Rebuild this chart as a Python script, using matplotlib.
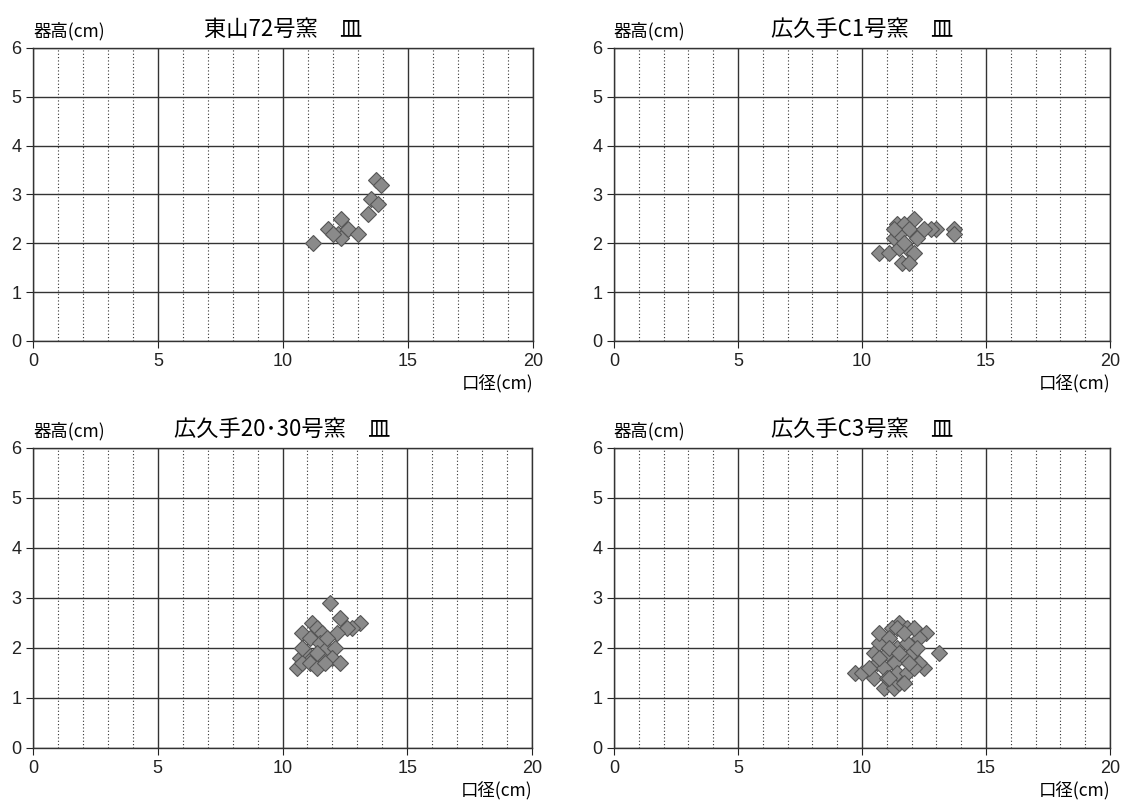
import matplotlib
matplotlib.use("Agg")
from matplotlib import pyplot as plt
from matplotlib.ticker import MultipleLocator

plt.rcParams['font.family'] = ['Noto Sans CJK JP', 'DejaVu Sans']

# 東山72号窯
higashi72_x = [11.2, 11.8, 12.3, 12.2, 12.3, 12.6, 12.0, 13.0, 13.4, 13.5, 13.8, 13.7, 13.9]
higashi72_y = [2.0, 2.3, 2.5, 2.2, 2.1, 2.3, 2.2, 2.2, 2.6, 2.9, 2.8, 3.3, 3.2]

# 広久手C1号窯
c1_x = [10.7, 13.7, 13.7, 13.0, 12.8, 12.1, 11.4, 11.7, 11.6, 11.1, 11.3, 11.5, 11.9,
        12.2, 12.5, 11.8, 12.1, 11.5, 11.7, 11.3, 11.9]
c1_y = [1.8, 2.3, 2.2, 2.3, 2.3, 2.5, 2.4, 2.4, 1.6, 1.8, 2.1, 2.2, 2.3,
        2.1, 2.3, 1.9, 1.8, 1.9, 2.0, 2.3, 1.6]

# 広久手20・30号窯
k2030_x = [11.9, 12.3, 13.1, 12.8, 12.6, 12.2, 10.8, 11.2, 11.4, 11.6, 11.1, 11.5, 11.8,
           12.1, 10.7, 11.0, 11.2, 11.6, 12.0, 10.6, 10.8, 11.1, 11.4, 11.7, 12.3, 11.4,
           11.8, 10.8]
k2030_y = [2.9, 2.6, 2.5, 2.4, 2.4, 2.3, 2.3, 2.5, 2.4, 2.3, 2.2, 2.1, 2.0,
           2.0, 1.8, 1.9, 1.8, 1.8, 1.8, 1.6, 1.7, 1.7, 1.6, 1.7, 1.7, 1.9,
           2.2, 2.0]

# 広久手C3号窯
c3_x = [13.1, 9.7, 10.0, 11.5, 11.2, 11.8, 12.6, 12.3, 12.5, 12.3, 10.9, 11.3, 11.5,
        10.5, 10.6, 10.5, 10.7, 10.7, 11.1, 11.0, 11.4, 11.8, 12.0, 11.7, 11.3, 10.9,
        11.0, 11.4, 11.8, 12.1, 11.9, 12.2, 10.3, 10.7, 11.1, 11.5, 11.4, 12.1, 11.7,
        11.1, 11.7]
c3_y = [1.9, 1.5, 1.5, 2.5, 2.4, 2.4, 2.3, 2.2, 1.6, 1.7, 1.2, 1.2, 1.3,
        1.4, 1.7, 1.9, 2.1, 2.3, 2.2, 1.9, 2.0, 2.1, 1.9, 1.8, 1.7, 1.6,
        1.4, 1.5, 1.5, 1.6, 1.7, 2.0, 1.6, 1.8, 2.0, 1.9, 2.4, 2.4, 2.3,
        1.4, 1.3]

titles = ["東山72号窯　皿", "広久手C1号窯　皿", "広久手20･30号窯　皿", "広久手C3号窯　皿"]
series = [(higashi72_x, higashi72_y), (c1_x, c1_y), (k2030_x, k2030_y), (c3_x, c3_y)]

positions = [
    [33 / 1125, 1 - 341 / 801, 500 / 1125, 293 / 801],
    [614 / 1125, 1 - 341 / 801, 496 / 1125, 293 / 801],
    [33 / 1125, 1 - 748 / 801, 499 / 1125, 300 / 801],
    [614 / 1125, 1 - 748 / 801, 496 / 1125, 300 / 801],
]

fig = plt.figure(figsize=(11.25, 8.01), dpi=100)

for pos, title, (xs, ys) in zip(positions, titles, series):
    ax = fig.add_axes(pos)
    ax.set_xlim(0, 20)
    ax.set_ylim(0, 6)
    ax.xaxis.set_major_locator(MultipleLocator(5))
    ax.xaxis.set_minor_locator(MultipleLocator(1))
    ax.yaxis.set_major_locator(MultipleLocator(1))
    ax.grid(which="major", color="#333333", linewidth=1.0)
    ax.grid(which="minor", axis="x", color="#333333", linewidth=0.8, linestyle=(0, (1, 2)))
    ax.set_axisbelow(True)
    for s in ax.spines.values():
        s.set_color("#333333")
        s.set_linewidth(1.0)
    ax.tick_params(which="major", direction="out", length=5, labelsize=13, colors="#222222")
    ax.tick_params(which="minor", length=0)
    for lab in ax.get_xticklabels() + ax.get_yticklabels():
        lab.set_family(["Liberation Sans", "DejaVu Sans"])
    ax.plot(xs, ys, linestyle="none", marker="D", markersize=8.5,
            markerfacecolor="#8a8a8a", markeredgecolor="#555555", markeredgewidth=0.8)
    ax.set_title(title, fontsize=16, pad=9)
    ax.text(0, 1.025, "器高(cm)", transform=ax.transAxes, fontsize=12.5, ha="left", va="bottom")
    ax.annotate("口径(cm)", xy=(1.0, 0), xycoords="axes fraction",
                xytext=(0, -31), textcoords="offset points",
                fontsize=12.5, ha="right", va="center")

fig.savefig("out.png", dpi=100)
